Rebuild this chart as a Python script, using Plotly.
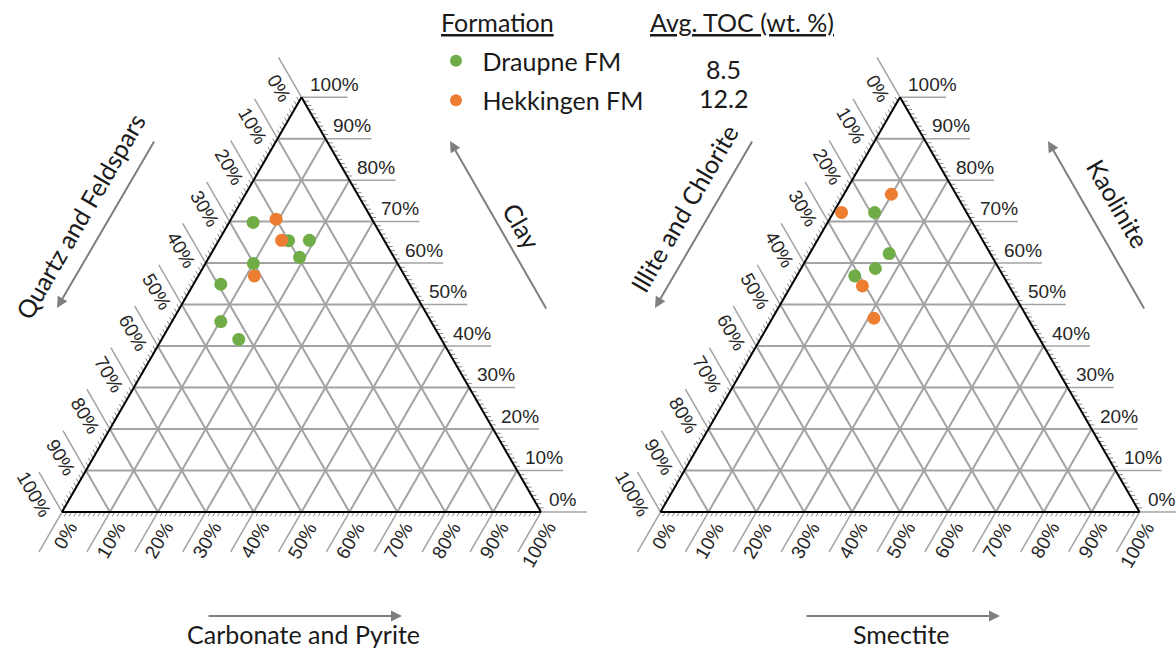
import math
import plotly.graph_objects as go

W, HGT = 1176, 651

# ---------------- data ----------------
formations = ["Draupne FM", "Hekkingen FM"]
avg_toc = ["8.5", "12.2"]
colors = ["#70AD47", "#ED7D31"]

# bulk mineralogy (wt. %): Clay (top), Quartz and Feldspars (left), Carbonate and Pyrite (right)
draupne_clay = [69.8, 65.4, 65.5, 61.4, 59.9, 54.9, 45.9, 41.6]
draupne_qf = [25.2, 20.0, 15.6, 19.7, 30.1, 39.4, 43.9, 42.3]
draupne_carb = [5.0, 14.6, 18.9, 18.9, 10.0, 5.7, 10.2, 16.1]
hekkingen_clay = [70.6, 65.5, 56.9]
hekkingen_qf = [20.0, 21.4, 31.4]
hekkingen_carb = [9.4, 13.1, 11.7]

# clay mineralogy (%): Kaolinite (top), Illite and Chlorite (left), Smectite (right)
draupne_kaol = [72.2, 62.3, 58.7, 56.9]
draupne_illchl = [19.2, 21.1, 25.8, 31.0]
draupne_smec = [8.6, 16.6, 15.5, 12.1]
hekkingen_kaol = [76.6, 72.2, 54.5, 46.7]
hekkingen_illchl = [13.5, 26.1, 30.6, 32.1]
hekkingen_smec = [9.9, 1.7, 14.9, 21.2]

tick_values = list(range(0, 101, 10))
minor_values = [v for v in range(0, 101) if v % 10]

# ---------------- geometry (layout) ----------------
SIDE = 479.0
TH = SIDE * math.sqrt(3) / 2
tri_origin = {"ternary": (62.0, 512.0), "ternary2": (660.5, 512.0)}
EXT = 46.0 / SIDE * 100       # major tick extension (ternary units)
EXT_MINOR = 5.0 / SIDE * 100  # minor tick length

GRID = "#a3a3a3"
TXT = "#262626"
ARROW = "#7f7f7f"
LBL_FONT = dict(family="Liberation Sans, Arial", size=19, color=TXT)
TITLE_FONT = dict(family="Lato, Open Sans", size=25, color="#1a1a1a")


def domain_for(sub):
    x0, y0 = tri_origin[sub]
    return dict(x=[x0 / W, (x0 + SIDE) / W], y=[1 - y0 / HGT, 1 - (y0 - TH) / HGT])


def to_px(sub, a, b, c):
    """ternary (a top, b left, c right) -> pixel position of the subplot triangle"""
    x0, y0 = tri_origin[sub]
    s = a + b + c
    a, c = a / s, c / s
    return x0 + SIDE * (c + a / 2), y0 - TH * a


def paper(px, py):
    return px / W, 1 - py / HGT


def text_len(t, size):
    return sum(0.889 * size if ch == "%" else 0.556 * size for ch in t)


fig = go.Figure()


def tick_trace(sub, values, ext, color, width):
    X, Y = [], []
    for v in values:
        segs = [
            ((v, 0, 100 - v), (v, -ext, 100 - v + ext)),                    # right edge
            ((100 - v, v, 0), (100 - v + ext, v, -ext)),                    # left edge
            ((0, 100 - v, v), (-ext, 100 - v + ext, v)),                    # bottom edge
        ]
        for p0, p1 in segs:
            x0, y0 = to_px(sub, *p0)
            x1, y1 = to_px(sub, *p1)
            X += [x0, x1, None]
            Y += [y0, y1, None]
    fig.add_trace(go.Scatter(x=X, y=Y, mode="lines", line=dict(color=color, width=width),
                             hoverinfo="skip", showlegend=False, xaxis="x", yaxis="y"))


for sub in ["ternary", "ternary2"]:
    tick_trace(sub, tick_values, EXT, GRID, 1.5)
    tick_trace(sub, minor_values, EXT_MINOR, "#8c8c8c", 1)

# data points
panels = [
    ("ternary", [(draupne_clay, draupne_qf, draupne_carb), (hekkingen_clay, hekkingen_qf, hekkingen_carb)]),
    ("ternary2", [(draupne_kaol, draupne_illchl, draupne_smec), (hekkingen_kaol, hekkingen_illchl, hekkingen_smec)]),
]
for sub, series in panels:
    for i, (a, b, c) in enumerate(series):
        fig.add_trace(go.Scatterternary(
            a=a, b=b, c=c, mode="markers", subplot=sub, name="\u00a0" + formations[i],
            legendgroup=formations[i], showlegend=(sub == "ternary"),
            marker=dict(size=13, color=colors[i], line=dict(width=0))))

annotations = []
R3 = math.sqrt(3) / 2
for sub in ["ternary", "ternary2"]:
    for v in tick_values:
        t = f"{v}%"
        L = text_len(t, LBL_FONT["size"])
        d = 5 + L / 2
        # right edge labels (top-corner component)
        px, py = to_px(sub, v, 0, 100 - v)
        x, y = paper(px + 6, py - 13)
        annotations.append(dict(x=x, y=y, xref="paper", yref="paper", text=t, showarrow=False,
                                xanchor="left", yanchor="middle", font=LBL_FONT))
        # left edge labels (left-corner component)
        tx, ty = to_px(sub, 100 - v, v, 0)
        x, y = paper(tx - 0.5 * d - 15 * R3, ty - R3 * d + 15 * 0.5)
        annotations.append(dict(x=x, y=y, xref="paper", yref="paper", text=t, showarrow=False,
                                textangle=60, xanchor="center", yanchor="middle", font=LBL_FONT))
        # bottom edge labels (right-corner component)
        tx, ty = to_px(sub, 0, 100 - v, v)
        x, y = paper(tx - 0.5 * d + 15 * R3, ty + R3 * d + 15 * 0.5)
        annotations.append(dict(x=x, y=y, xref="paper", yref="paper", text=t, showarrow=False,
                                textangle=-60, xanchor="center", yanchor="middle", font=LBL_FONT))

# axis titles with arrows
axis_titles = [
    ("Quartz and Feldspars", (80, 216), -60, (155, 140), (57, 308)),
    ("Clay", (522, 226), 60, (547, 310), (450, 141)),
    ("Carbonate and Pyrite", (303, 634), 0, (207, 616), (402, 616)),
    ("Illite and Chlorite", (684, 208), -60, (753, 140), (655, 308)),
    ("Kaolinite", (1118, 203), 60, (1145, 310), (1048, 141)),
    ("Smectite", (901, 634), 0, (805, 616), (1000, 616)),
]
for text, (cx, cy), ang, tail, head in axis_titles:
    x, y = paper(cx, cy)
    annotations.append(dict(x=x, y=y, xref="paper", yref="paper", text=text, showarrow=False,
                            textangle=ang, xanchor="center", yanchor="middle", font=TITLE_FONT))
    hx, hy = paper(*head)
    annotations.append(dict(x=hx, y=hy, xref="paper", yref="paper", text="", showarrow=True,
                            ax=tail[0] - head[0], ay=tail[1] - head[1], axref="pixel", ayref="pixel",
                            arrowhead=2, arrowsize=1.1, arrowwidth=2, arrowcolor=ARROW, standoff=0))

# legend headers and TOC values
for text, (cx, cy) in [("<u>Formation</u>", (497, 22)), ("<u>Avg. TOC (wt. %)</u>", (742, 22))]:
    x, y = paper(cx, cy)
    annotations.append(dict(x=x, y=y, xref="paper", yref="paper", text=text, showarrow=False,
                            xanchor="center", yanchor="middle", font=TITLE_FONT))
for text, (cx, cy) in zip(avg_toc, [(723, 69), (723, 98)]):
    x, y = paper(cx, cy)
    annotations.append(dict(x=x, y=y, xref="paper", yref="paper", text=text, showarrow=False,
                            xanchor="center", yanchor="middle", font=TITLE_FONT))


def tern_axis():
    return dict(min=0, dtick=10, tick0=0, showgrid=True, gridcolor=GRID, gridwidth=1.5,
                showline=True, linecolor="#000000", linewidth=2, ticks="",
                showticklabels=False, layer="below traces", title=dict(text=""))


lx, ly = paper(436, 38)
fig.update_layout(
    width=W, height=HGT,
    margin=dict(l=0, r=0, t=0, b=0),
    paper_bgcolor="white",
    plot_bgcolor="white",
    xaxis=dict(range=[0, W], domain=[0, 1], visible=False, fixedrange=True),
    yaxis=dict(range=[HGT, 0], domain=[0, 1], visible=False, fixedrange=True),
    ternary=dict(domain=domain_for("ternary"), sum=100, bgcolor="white",
                 aaxis=tern_axis(), baxis=tern_axis(), caxis=tern_axis()),
    ternary2=dict(domain=domain_for("ternary2"), sum=100, bgcolor="white",
                  aaxis=tern_axis(), baxis=tern_axis(), caxis=tern_axis()),
    legend=dict(x=lx, y=ly, xanchor="left", yanchor="top", font=TITLE_FONT,
                bgcolor="rgba(0,0,0,0)", tracegroupgap=4, itemsizing="constant"),
    annotations=annotations,
    showlegend=True,
)

fig.write_html("out.html",
               config={"displayModeBar": False},
               post_script="document.body.style.margin='0px';document.body.style.padding='0px';"
                           "document.body.style.overflow='hidden';")
